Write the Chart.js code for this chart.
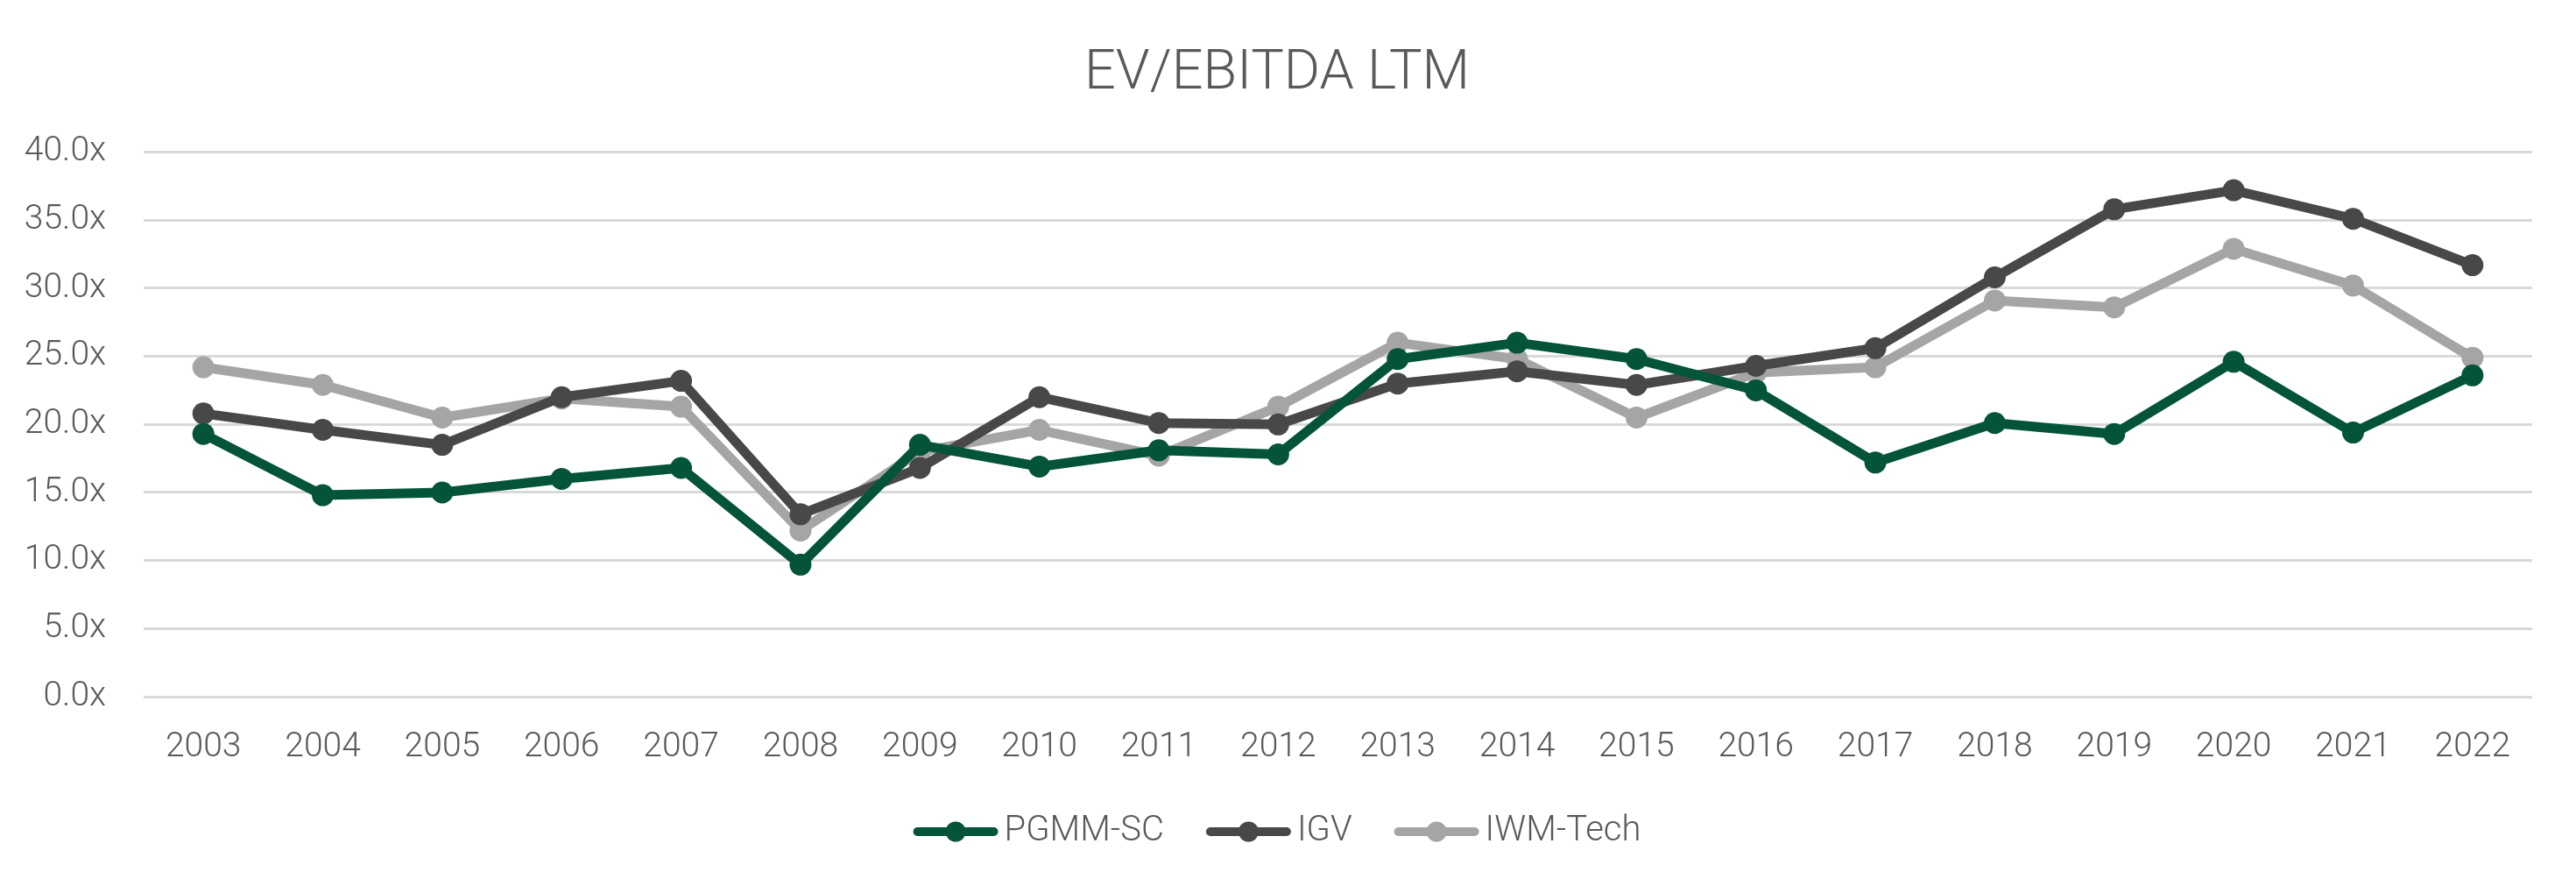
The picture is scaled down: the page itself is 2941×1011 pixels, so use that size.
<!DOCTYPE html>
<html>
<head>
<meta charset="utf-8">
<script src="https://cdn.jsdelivr.net/npm/chart.js@4"></script>
<style>
  html, body { margin: 0; padding: 0; background: #fff; }
</style>
</head>
<body>
<canvas id="chart-line" width="2941" height="1011"></canvas>
<script>
const years = ['2003','2004','2005','2006','2007','2008','2009','2010','2011','2012',
               '2013','2014','2015','2016','2017','2018','2019','2020','2021','2022'];
const pgmmSC = [19.3, 14.8, 15.0, 16.0, 16.8, 9.7, 18.5, 16.9, 18.1, 17.8,
                24.8, 26.0, 24.8, 22.5, 17.2, 20.1, 19.3, 24.6, 19.4, 23.6];
const igv = [20.8, 19.6, 18.5, 22.0, 23.2, 13.4, 16.8, 22.0, 20.1, 20.0,
             23.0, 23.9, 22.9, 24.3, 25.6, 30.8, 35.8, 37.2, 35.1, 31.7];
const iwmTech = [24.2, 22.9, 20.5, 21.9, 21.3, 12.2, 18.0, 19.6, 17.7, 21.3,
                 26.0, 24.8, 20.5, 23.8, 24.2, 29.1, 28.6, 32.9, 30.2, 24.9];
const yTicks = [0, 5, 10, 15, 20, 25, 30, 35, 40];

const FONT = 'Roboto';
const TEXT = '#595959';
const LINE_W = 11;
const DOT_R = 12.5;

function series(label, data, color) {
  return {
    label: label, data: data,
    borderColor: color, backgroundColor: color,
    pointBackgroundColor: color, pointBorderColor: color,
    borderWidth: LINE_W, pointRadius: DOT_R, pointHoverRadius: DOT_R,
    pointBorderWidth: 0, tension: 0, borderJoinStyle: 'round'
  };
}

// legend symbol: line with a dot in the middle, like Excel
const legendLines = {
  id: 'legendLines',
  afterDraw(chart) {
    const lg = chart.legend;
    if (!lg || !lg.legendHitBoxes) return;
    const ctx = chart.ctx;
    const fs = lg.options.labels.font.size;
    lg.legendHitBoxes.forEach((hb, i) => {
      const ds = chart.data.datasets[i];
      const y = hb.top + fs / 2;
      ctx.save();
      ctx.strokeStyle = ds.borderColor;
      ctx.lineWidth = 10;
      ctx.lineCap = 'round';
      ctx.beginPath();
      ctx.moveTo(hb.left + 5, y);
      ctx.lineTo(hb.left + 92, y);
      ctx.stroke();
      ctx.fillStyle = ds.borderColor;
      ctx.beginPath();
      ctx.arc(hb.left + 48.5, y, 11.5, 0, Math.PI * 2);
      ctx.fill();
      ctx.restore();
    });
  }
};

new Chart(document.getElementById('chart-line'), {
  type: 'line',
  data: {
    labels: years,
    datasets: [
      series('PGMM-SC', pgmmSC, '#03543a'),
      series('IGV', igv, '#484848'),
      series('IWM-Tech', iwmTech, '#a5a5a5')
    ]
  },
  plugins: [legendLines],
  options: {
    responsive: false,
    devicePixelRatio: 1,
    animation: false,
    layout: { padding: { left: 0, right: 25, top: 0, bottom: 32 } },
    scales: {
      x: {
        offset: true,
        grid: { display: false, drawTicks: false },
        border: { display: false },
        ticks: { color: TEXT, font: { family: FONT, size: 39, weight: 300 }, padding: 35, maxRotation: 0 },
        afterFit(scale) { scale.height = 86; }
      },
      y: {
        min: 0, max: 40,
        afterBuildTicks(scale) { scale.ticks = yTicks.map(v => ({ value: v })); },
        grid: { color: '#d9d9d9', lineWidth: 3, drawTicks: false },
        border: { display: false },
        ticks: {
          color: TEXT, font: { family: FONT, size: 39, weight: 300 }, padding: 43,
          callback: v => v.toFixed(1) + 'x'
        },
        afterFit(scale) { scale.width = 164; }
      },
      yRight: {
        position: 'right',
        grid: { display: false, drawTicks: false },
        border: { display: false },
        ticks: { display: false },
        afterFit(scale) { scale.width = 25; }
      }
    },
    plugins: {
      title: {
        display: true, text: 'EV/EBITDA LTM', color: TEXT,
        font: { family: FONT, size: 63, weight: 300 },
        padding: { top: 47, bottom: 51 }
      },
      legend: {
        position: 'bottom',
        labels: {
          color: TEXT, font: { family: FONT, size: 40, weight: 300 },
          boxWidth: 84, boxHeight: 10, padding: 48,
          generateLabels(chart) {
            return chart.data.datasets.map((ds, i) => ({
              text: ds.label, fillStyle: 'rgba(0,0,0,0)', strokeStyle: 'rgba(0,0,0,0)',
              lineWidth: 0, datasetIndex: i, fontColor: TEXT, hidden: false
            }));
          }
        }
      },
      tooltip: { enabled: false }
    }
  }
});
</script>
</body>
</html>
